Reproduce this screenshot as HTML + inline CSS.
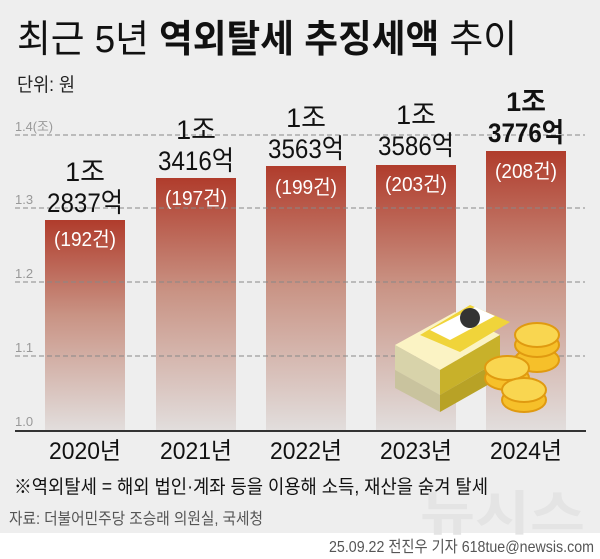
<!DOCTYPE html>
<html><head><meta charset="utf-8"><style>
html,body{margin:0;padding:0;background:#fff}
svg{display:block}
text{font-family:"Liberation Sans","Noto Sans CJK KR",sans-serif}
</style></head><body>
<svg width="600" height="559" viewBox="0 0 600 559" xmlns="http://www.w3.org/2000/svg">
<defs>
<linearGradient id="g" x1="0" y1="0" x2="0" y2="1">
<stop offset="0" stop-color="#b03c2c"/><stop offset="0.45" stop-color="#c99384"/><stop offset="1" stop-color="#e2dedd"/>
</linearGradient>
</defs>
<rect x="0" y="0" width="600" height="533" fill="#eeeeee"/>
<text x="17" y="52" font-size="38" fill="#111" textLength="500" lengthAdjust="spacingAndGlyphs">최근 5년 <tspan font-weight="bold">역외탈세 추징세액</tspan> 추이</text>
<text x="17" y="91" font-size="19" fill="#222" textLength="58" lengthAdjust="spacingAndGlyphs">단위: 원</text>
<!-- bars -->
<rect x="45" y="220" width="80" height="211" fill="url(#g)" gradientUnits="userSpaceOnUse"/>
<rect x="156" y="178" width="80" height="253" fill="url(#g)"/>
<rect x="266" y="166" width="80" height="265" fill="url(#g)"/>
<rect x="376" y="165" width="80" height="266" fill="url(#g)"/>
<rect x="486" y="151" width="80" height="280" fill="url(#g)"/>
<!-- grid -->
<g stroke="#888" stroke-dasharray="5,3" stroke-width="1">
<line x1="15" y1="135" x2="585" y2="135"/><line x1="15" y1="208" x2="585" y2="208"/>
<line x1="15" y1="282" x2="585" y2="282"/><line x1="15" y1="356" x2="585" y2="356"/>
</g>
<g font-size="13" fill="#999">
<text x="15" y="131" textLength="38" lengthAdjust="spacingAndGlyphs">1.4(조)</text>
<text x="15" y="204">1.3</text><text x="15" y="278">1.2</text><text x="15" y="352">1.1</text><text x="15" y="426">1.0</text>
</g>
<line x1="15" y1="431" x2="586" y2="431" stroke="#333" stroke-width="2"/>
<!-- money -->
<g>
<polygon points="395,345 455,312 500,335 440,370" fill="#fbf3c4"/>
<polygon points="395,345 440,370 440,395 395,370" fill="#d8d3aa"/>
<polygon points="440,370 500,335 500,360 440,395" fill="#c8b12a"/>
<polygon points="395,370 440,395 440,412 395,388" fill="#c9c39e"/>
<polygon points="440,395 500,360 500,378 440,412" fill="#b8a226"/>
<polygon points="420,335 470,305 510,322 460,352" fill="#f0d43a"/>
<polygon points="430,330 475,307 495,316 450,340" fill="#fff"/>
<circle cx="470" cy="318" r="10" fill="#333"/>
<g fill="#f6c02a" stroke="#e09a10" stroke-width="2">
<ellipse cx="537" cy="360" rx="22" ry="12"/><ellipse cx="537" cy="345" rx="22" ry="12"/><ellipse cx="537" cy="335" rx="22" ry="12" fill="#f9d650"/>
<ellipse cx="507" cy="378" rx="22" ry="12"/><ellipse cx="507" cy="368" rx="22" ry="12" fill="#f9d650"/>
<ellipse cx="524" cy="400" rx="22" ry="12"/><ellipse cx="524" cy="390" rx="22" ry="12" fill="#f9d650"/>
</g>
</g>
<!-- value labels -->
<g font-size="27" fill="#111" text-anchor="middle">
<text x="85" y="181">1조</text><text x="85" y="212" textLength="76" lengthAdjust="spacingAndGlyphs">2837억</text>
<text x="196" y="139">1조</text><text x="196" y="170" textLength="76" lengthAdjust="spacingAndGlyphs">3416억</text>
<text x="306" y="127">1조</text><text x="306" y="158" textLength="76" lengthAdjust="spacingAndGlyphs">3563억</text>
<text x="416" y="124">1조</text><text x="416" y="155" textLength="76" lengthAdjust="spacingAndGlyphs">3586억</text>
<text x="526" y="111" font-weight="bold">1조</text><text x="526" y="142" font-weight="bold" textLength="76" lengthAdjust="spacingAndGlyphs">3776억</text>
</g>
<g font-size="20" fill="#fff" text-anchor="middle">
<text x="85" y="246" textLength="62" lengthAdjust="spacingAndGlyphs">(192건)</text>
<text x="196" y="205" textLength="62" lengthAdjust="spacingAndGlyphs">(197건)</text>
<text x="306" y="194" textLength="62" lengthAdjust="spacingAndGlyphs">(199건)</text>
<text x="416" y="191" textLength="62" lengthAdjust="spacingAndGlyphs">(203건)</text>
<text x="526" y="178" textLength="62" lengthAdjust="spacingAndGlyphs">(208건)</text>
</g>
<g font-size="24" fill="#111" text-anchor="middle">
<text x="85" y="459" textLength="72" lengthAdjust="spacingAndGlyphs">2020년</text>
<text x="196" y="459" textLength="72" lengthAdjust="spacingAndGlyphs">2021년</text>
<text x="306" y="459" textLength="72" lengthAdjust="spacingAndGlyphs">2022년</text>
<text x="416" y="459" textLength="72" lengthAdjust="spacingAndGlyphs">2023년</text>
<text x="526" y="459" textLength="72" lengthAdjust="spacingAndGlyphs">2024년</text>
</g>
<text x="14" y="493" font-size="19" fill="#111" textLength="474" lengthAdjust="spacingAndGlyphs">※역외탈세 = 해외 법인·계좌 등을 이용해 소득, 재산을 숨겨 탈세</text>
<text x="9" y="524" font-size="16" fill="#555" textLength="254" lengthAdjust="spacingAndGlyphs">자료: 더불어민주당 조승래 의원실, 국세청</text>
<text x="420" y="530" font-size="48" font-weight="bold" fill="#e4e4e4" textLength="165" lengthAdjust="spacingAndGlyphs">뉴시스</text>
<text x="594" y="552" font-size="16" fill="#555" text-anchor="end" textLength="265" lengthAdjust="spacingAndGlyphs">25.09.22 전진우 기자 618tue@newsis.com</text>
</svg>
</body></html>
